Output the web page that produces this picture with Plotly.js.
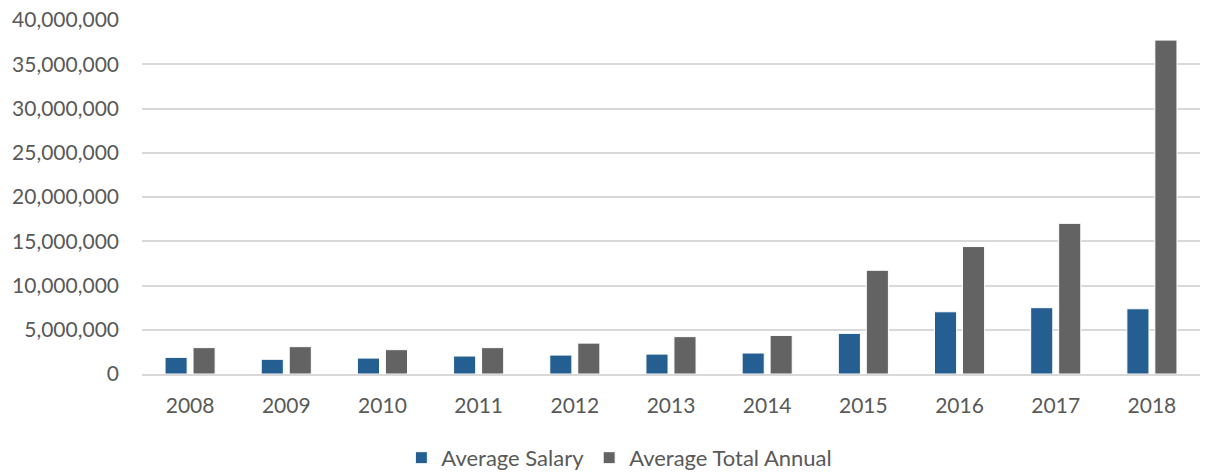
<!DOCTYPE html>
<html>
<head>
<meta charset="utf-8">
<script src="https://cdn.plot.ly/plotly-3.0.1.min.js"></script>
<style>html,body{margin:0;padding:0;background:#fff;}#chart{width:1205px;height:475px;}</style>
</head>
<body>
<div id="chart"></div>
<script>
const years = ['2008','2009','2010','2011','2012','2013','2014','2015','2016','2017','2018'];
const averageSalary = [1880000,1660000,1800000,2030000,2140000,2250000,2370000,4590000,7030000,7490000,7370000];
const averageTotalAnnual = [2980000,3090000,2750000,2980000,3490000,4220000,4360000,11720000,14400000,17020000,37730000];
const seriesNames = ['Average Salary','Average Total Annual'];
const yTicks = [0,5000000,10000000,15000000,20000000,25000000,30000000,35000000,40000000];

const font = {family: 'Lato, "Open Sans", sans-serif', size: 21, color: '#595959'};
const legendFont = {family: 'Lato, "Open Sans", sans-serif', size: 22, color: '#595959'};

const traces = [
  {type:'bar', name:seriesNames[0], x:years, y:averageSalary,
   marker:{color:'#255E91', line:{color:'#ffffff', width:1}}, hoverinfo:'x+y'},
  {type:'bar', name:seriesNames[1], x:years, y:averageTotalAnnual,
   marker:{color:'#636363', line:{color:'#ffffff', width:1}}, hoverinfo:'x+y'}
];

const layout = {
  width:1205, height:475,
  margin:{l:142, r:5, t:20, b:101, autoexpand:false},
  paper_bgcolor:'#ffffff', plot_bgcolor:'#ffffff',
  font: font,
  barmode:'group', bargap:0.418, bargroupgap:0.21,
  showlegend:true,
  legend:{orientation:'h', xref:'container', yref:'container', x:0.514, xanchor:'center', y:0.036, yanchor:'middle',
          font:legendFont, itemwidth:30, tracegroupgap:0},
  xaxis:{type:'category', showgrid:false, zeroline:false, showline:true, linecolor:'#d9d9d9', linewidth:2,
         ticks:'', tickfont:font, ticklabelstandoff:12, automargin:false},
  yaxis:{range:[0,40000000], tickvals:yTicks, tickformat:',', showgrid:true, gridcolor:'#d9d9d9', gridwidth:2,
         zeroline:false, showline:false, ticks:'', tickfont:font, ticklabelstandoff:22, automargin:false}
};

Plotly.newPlot('chart', traces, layout, {displayModeBar:false, staticPlot:true});
</script>
</body>
</html>
